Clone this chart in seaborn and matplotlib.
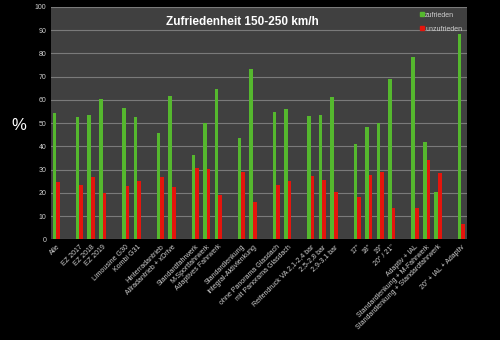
import matplotlib
matplotlib.use("Agg")
import matplotlib.pyplot as plt
import seaborn as sns
import pandas as pd
import numpy as np
from matplotlib.lines import Line2D

# Categories ("" = empty spacer slot between groups)
categories = [
    "Alle", "",
    "EZ 2017", "EZ 2018", "EZ 2019", "",
    "Limousine G30", "Kombi G31", "",
    "Hinterradantrieb", "Allradantrieb + xDrive", "",
    "Standardfahrwerk", "M-Sportfahrwerk", "Adaptives Fahrwerk", "",
    "Standardlenkung", "Integral-Aktivlenkung", "",
    "ohne Panorama Glasdach", "mit Panorama Glasdach", "",
    "Reifendruck VA 2,1-2,4 bar", "2,5-2,8 bar", "2,9-3,1 bar", "",
    '17"', '18"', '19"', '20" / 21"', "",
    "Adaptiv + IAL", "Standardlenkung + M-Fahrwerk",
    "Standardlenkung + Standardfahrwerk", "",
    '20" + IAL + Adaptiv',
]
zufrieden = [
    54.2, None,
    52.4, 53.4, 60.2, None,
    56.6, 52.7, None,
    45.6, 61.6, None,
    36.2, 50.1, 64.5, None,
    43.4, 73.3, None,
    54.7, 55.9, None,
    52.9, 53.4, 61.3, None,
    41.0, 48.4, 50.1, 68.8, None,
    78.5, 42.0, 20.5, None,
    88.5,
]
unzufrieden = [
    24.8, None,
    23.4, 26.9, 19.8, None,
    22.9, 25.0, None,
    26.6, 22.3, None,
    30.5, 30.1, 19.0, None,
    29.0, 16.0, None,
    23.3, 25.1, None,
    27.3, 25.5, 20.5, None,
    18.0, 27.6, 29.0, 13.6, None,
    13.6, 34.0, 28.6, None,
    6.4,
]
series = ["zufrieden", "unzufrieden"]
yticks = list(range(0, 101, 10))

plt.rcParams["font.family"] = ["Liberation Sans", "DejaVu Sans"]

# unique keys for slots
keys = [f"s{i}" for i in range(len(categories))]
rows = []
for k, g, r in zip(keys, zufrieden, unzufrieden):
    rows.append({"slot": k, "serie": series[0], "wert": np.nan if g is None else g})
    rows.append({"slot": k, "serie": series[1], "wert": np.nan if r is None else r})
df = pd.DataFrame(rows)

green = "#55b82e"
red = "#e5150c"
fig = plt.figure(figsize=(5, 3.4), dpi=100, facecolor="black")
ax = fig.add_axes([0.101, 0.296, 0.833, 0.684])
ax.set_facecolor("#404040")

sns.barplot(data=df, x="slot", y="wert", hue="serie", order=keys,
            hue_order=series, palette=[green, red], width=0.62,
            dodge=True, ax=ax, legend=False, saturation=1)

ax.set_ylim(0, 100)
ax.set_xlim(-0.5, len(keys) - 0.5)
ax.set_yticks(yticks)
ax.set_yticklabels([str(t) for t in yticks], fontsize=5, color="#d0d0d0")
ax.yaxis.grid(True, color="#7a7a7a", linewidth=0.8)
ax.set_axisbelow(True)
ax.set_xticks(range(len(keys)))
ax.set_xticklabels(categories, rotation=45, ha="right", rotation_mode="anchor",
                   fontsize=5, color="#d0d0d0")
ax.tick_params(axis="both", length=0, pad=3)
ax.set_xlabel("")
ax.set_ylabel("")
for s in ax.spines.values():
    s.set_visible(False)

fig.text(0.484, 0.935, "Zufriedenheit 150-250 km/h", color="white",
         fontsize=8.5, fontweight="bold", ha="center", va="center")
fig.text(0.022, 0.63, "%", color="white", fontsize=12, ha="left", va="center")

handles = [Line2D([], [], marker="s", linestyle="", color=green, markersize=2.5),
           Line2D([], [], marker="s", linestyle="", color=red, markersize=2.5)]
leg = ax.legend(handles, series, loc="upper right", frameon=False, fontsize=5,
                labelcolor="#d0d0d0", handlelength=0.5, handletextpad=0.15,
                borderaxespad=0.3, labelspacing=1.0)

fig.savefig("out.png", dpi=100, facecolor="black")
